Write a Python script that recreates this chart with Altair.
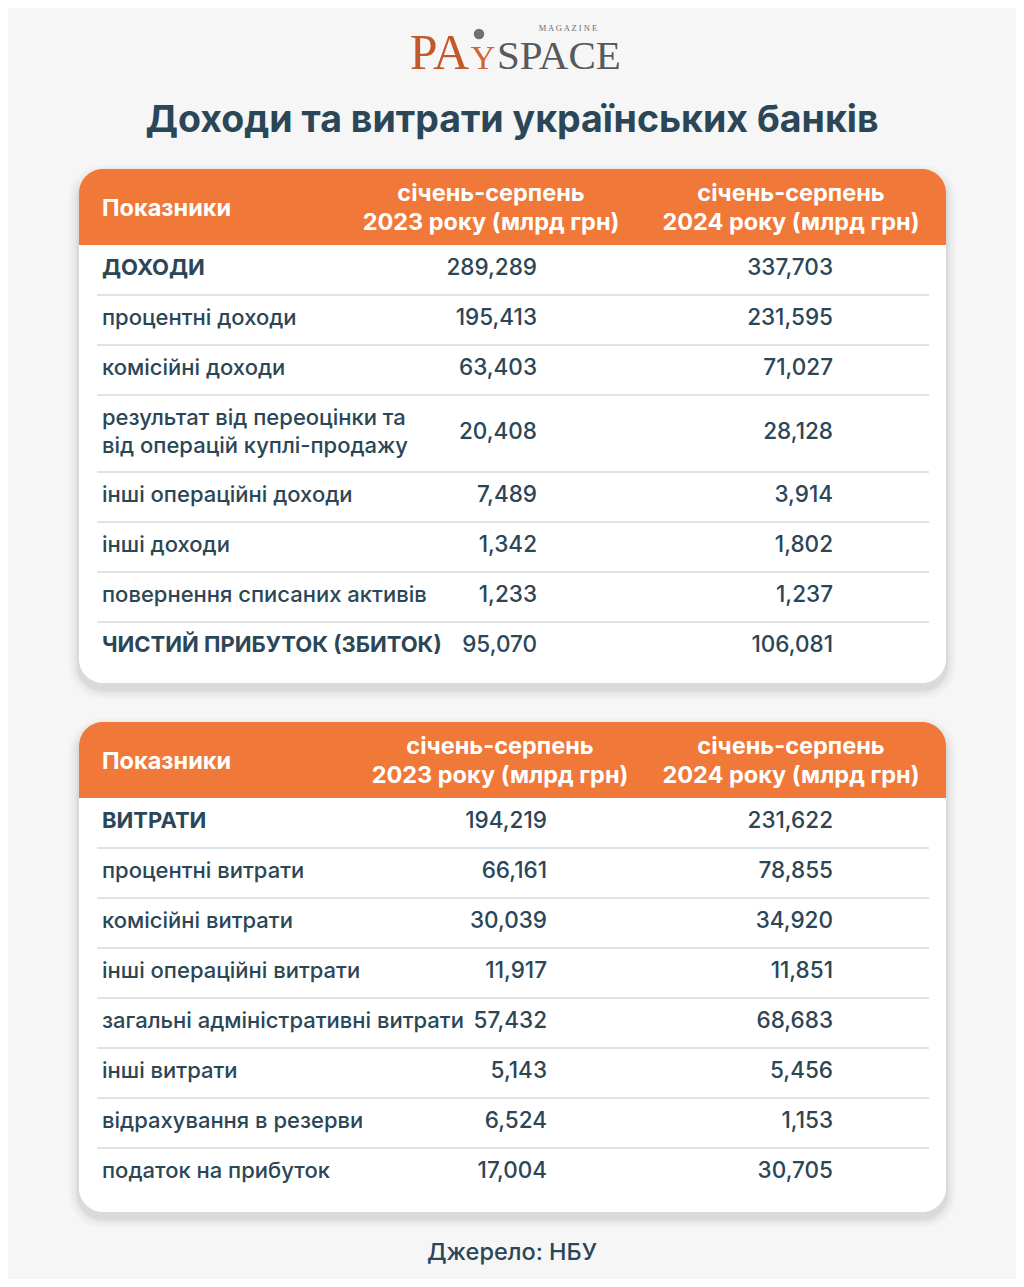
import altair as alt
import pandas as pd

# ---------------- data ----------------
TITLE = "Доходи та витрати українських банків"
SOURCE = "Джерело: НБУ"
HEAD_LABEL = "Показники"
HEAD_2023 = "січень-серпень\n2023 року (млрд грн)"
HEAD_2024 = "січень-серпень\n2024 року (млрд грн)"

income_labels = [
    "ДОХОДИ",
    "процентні доходи",
    "комісійні доходи",
    "результат від переоцінки та\nвід операцій куплі-продажу",
    "інші операційні доходи",
    "інші доходи",
    "повернення списаних активів",
    "ЧИСТИЙ ПРИБУТОК (ЗБИТОК)",
]
income_2023 = [289.289, 195.413, 63.403, 20.408, 7.489, 1.342, 1.233, 95.070]
income_2024 = [337.703, 231.595, 71.027, 28.128, 3.914, 1.802, 1.237, 106.081]
income_bold = [True, False, False, False, False, False, False, True]

expense_labels = [
    "ВИТРАТИ",
    "процентні витрати",
    "комісійні витрати",
    "інші операційні витрати",
    "загальні адміністративні витрати",
    "інші витрати",
    "відрахування в резерви",
    "податок на прибуток",
]
expense_2023 = [194.219, 66.161, 30.039, 11.917, 57.432, 5.143, 6.524, 17.004]
expense_2024 = [231.622, 78.855, 34.920, 11.851, 68.683, 5.456, 1.153, 30.705]
expense_bold = [True, False, False, False, False, False, False, False]

# ---------------- layout ----------------
INK = "#2b4656"
ORANGE = "#f07839"
RULE = "#b9cad6"
FONT = "Inter"

CARD_X0, CARD_X1 = 79, 946
RULE_X0, RULE_X1 = 97, 929
LABEL_X = 102
COL3_RIGHT = 833
COL3_CENTER = 791
HEADER_H = 76
HEAD_LH = 29
ROW_LH = 28


def fmt(v):
    return f"{v:.3f}".replace(".", ",")


cards, headers, rules = [], [], []
head_texts, lab_norm, lab_bold, vals = [], [], [], []


def build(top, labels, v23, v24, bold, col2_right, col2_center, bottom_pad):
    y = top + HEADER_H
    headers.append(dict(x=CARD_X0, x2=CARD_X1, y=top, y2=y))
    head_texts.append(dict(x=LABEL_X, y=top + 40, t=HEAD_LABEL, a="left"))
    first = top + 39 - HEAD_LH / 2
    head_texts.append(dict(x=col2_center, y=first, t=HEAD_2023, a="center"))
    head_texts.append(dict(x=COL3_CENTER, y=first, t=HEAD_2024, a="center"))
    for i, lab in enumerate(labels):
        n = lab.count("\n") + 1
        h = 77 if n > 1 else 50
        cy = y + h / 2 - 2
        ly = cy - (n - 1) * ROW_LH / 2
        (lab_bold if bold[i] else lab_norm).append(dict(x=LABEL_X, y=ly, t=lab))
        vals.append(dict(x=col2_right, y=cy, t=fmt(v23[i])))
        vals.append(dict(x=COL3_RIGHT, y=cy, t=fmt(v24[i])))
        y += h
        if i < len(labels) - 1:
            rules.append(dict(x=RULE_X0, x2=RULE_X1, y=y))
    cards.append(dict(x=CARD_X0, x2=CARD_X1, y=top, y2=y + bottom_pad))


build(169, income_labels, income_2023, income_2024, income_bold, 537, 491, 11)
build(722, expense_labels, expense_2023, expense_2024, expense_bold, 547, 500, 14)

XS = alt.Scale(domain=[8, 1016], nice=False, zero=False)
YS = alt.Scale(domain=[1279, 8], nice=False, zero=False)


def X(f="x"):
    return alt.X(f"{f}:Q", scale=XS, axis=None)


def Y(f="y"):
    return alt.Y(f"{f}:Q", scale=YS, axis=None)


cards_df = pd.DataFrame(cards)
layers = []

# soft shadow
for k, op in [(10, 0.018), (7, 0.022), (4, 0.03), (2, 0.04)]:
    sh = cards_df.copy()
    sh["x"] = sh["x"] - k
    sh["x2"] = sh["x2"] + k
    sh["y"] = sh["y"] - k + 6
    sh["y2"] = sh["y2"] + k + 6
    layers.append(
        alt.Chart(sh).mark_rect(color="#000000", opacity=op, cornerRadius=24 + k)
        .encode(x=X(), x2="x2:Q", y=Y(), y2="y2:Q")
    )

layers.append(
    alt.Chart(cards_df).mark_rect(color="#ffffff", cornerRadius=24)
    .encode(x=X(), x2="x2:Q", y=Y(), y2="y2:Q")
)
layers.append(
    alt.Chart(pd.DataFrame(headers)).mark_rect(
        color=ORANGE, cornerRadiusTopLeft=24, cornerRadiusTopRight=24)
    .encode(x=X(), x2="x2:Q", y=Y(), y2="y2:Q")
)
layers.append(
    alt.Chart(pd.DataFrame(rules)).mark_rule(color=RULE, strokeWidth=1)
    .encode(x=X(), x2="x2:Q", y=Y())
)

hdf = pd.DataFrame(head_texts)
for a in ["left", "center"]:
    layers.append(
        alt.Chart(hdf[hdf.a == a]).mark_text(
            font=FONT, fontSize=23.5, fontWeight="bold", color="#ffffff",
            align=a, baseline="middle", lineBreak="\n", lineHeight=HEAD_LH)
        .encode(x=X(), y=Y(), text="t:N")
    )

layers.append(
    alt.Chart(pd.DataFrame(lab_norm)).mark_text(
        font=FONT, fontSize=22, fontWeight=500, color=INK, align="left",
        baseline="middle", lineBreak="\n", lineHeight=ROW_LH)
    .encode(x=X(), y=Y(), text="t:N")
)
layers.append(
    alt.Chart(pd.DataFrame(lab_bold)).mark_text(
        font=FONT, fontSize=22, fontWeight="bold", color=INK, align="left",
        baseline="middle")
    .encode(x=X(), y=Y(), text="t:N")
)
layers.append(
    alt.Chart(pd.DataFrame(vals)).mark_text(
        font=FONT, fontSize=22.5, fontWeight=500, color=INK, align="right",
        baseline="middle")
    .encode(x=X(), y=Y(), text="t:N")
)

# title and source
tdf = pd.DataFrame([dict(x=512, y=121, t=TITLE)])
layers.append(
    alt.Chart(tdf).mark_text(font=FONT, fontSize=37.5, fontWeight="bold", color=INK,
                             align="center", baseline="middle")
    .encode(x=X(), y=Y(), text="t:N")
)
sdf = pd.DataFrame([dict(x=512, y=1253, t=SOURCE)])
layers.append(
    alt.Chart(sdf).mark_text(font=FONT, fontSize=23.5, fontWeight=500, color=INK,
                             align="center", baseline="middle")
    .encode(x=X(), y=Y(), text="t:N")
)

# logo
logo_or = pd.DataFrame([dict(x=469, y=69, t="PA")])
layers.append(
    alt.Chart(logo_or).mark_text(font="Liberation Serif", fontSize=50, color="#c2582b",
                                 align="right", baseline="alphabetic")
    .encode(x=X(), y=Y(), text="t:N")
)
logo_y = pd.DataFrame([dict(x=483, y=69, t="Y")])
layers.append(
    alt.Chart(logo_y).mark_text(font="Liberation Serif", fontSize=34, color="#d0652e",
                                align="center", baseline="alphabetic")
    .encode(x=X(), y=Y(), text="t:N")
)
logo_gr = pd.DataFrame([dict(x=497, y=69, t="SPACE")])
layers.append(
    alt.Chart(logo_gr).mark_text(font="Liberation Serif", fontSize=41, color="#57595c",
                                 align="left", baseline="alphabetic")
    .encode(x=X(), y=Y(), text="t:N")
)
logo_m = pd.DataFrame([dict(x=568, y=28, t="M  A  G  A  Z  I  N  E")])
layers.append(
    alt.Chart(logo_m).mark_text(font="Liberation Serif", fontSize=8.5, color="#6b6d70",
                                align="center", baseline="middle")
    .encode(x=X(), y=Y(), text="t:N")
)
logo_ball = pd.DataFrame([dict(x=479, y=34)])
layers.append(
    alt.Chart(logo_ball).mark_point(filled=True, color="#6e7073", size=110, opacity=1)
    .encode(x=X(), y=Y())
)

chart = (
    alt.layer(*layers)
    .properties(width=1008, height=1271, background="#f6f6f7", padding=0,
                autosize=alt.AutoSizeParams(type="none"))
    .configure_view(stroke=None)
)

chart.save("out.html", embed_options={"renderer": "svg", "actions": False})
